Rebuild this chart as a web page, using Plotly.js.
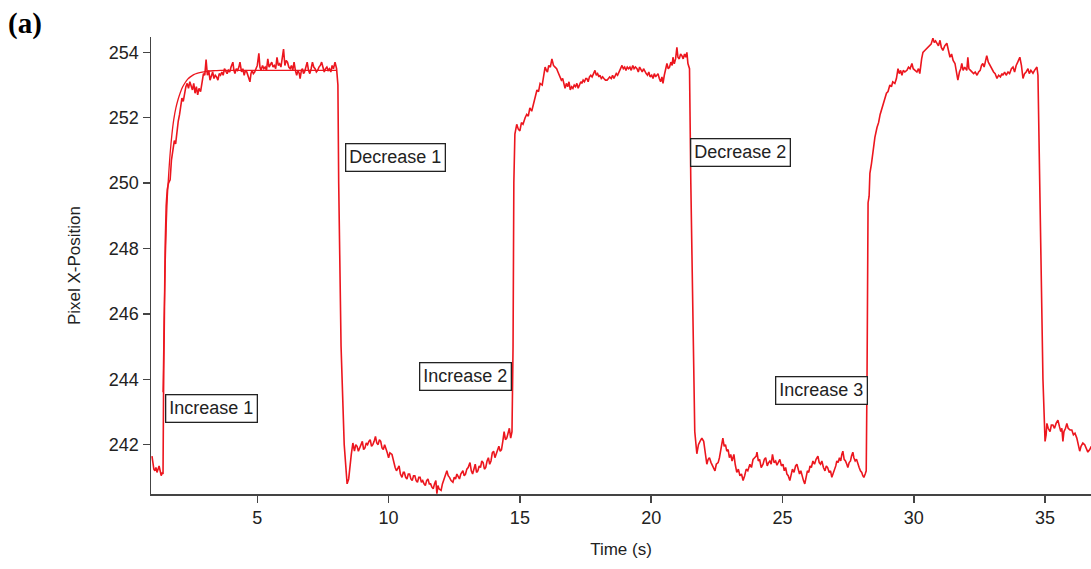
<!DOCTYPE html>
<html>
<head>
<meta charset="utf-8">
<script src="https://cdn.plot.ly/plotly-3.0.1.min.js"></script>
<style>html,body{margin:0;padding:0;background:#fff;}#chart{width:1091px;height:569px;}</style>
</head>
<body>
<div id="chart"></div>
<script>
// Measured trace: time (s)
const timeS = [
0.99,1.02,1.06,1.10,1.14,1.18,1.22,1.26,1.30,1.34,1.38,1.41,
1.43,1.46,1.49,1.53,1.57,1.62,1.68,1.73,1.78,1.84,1.89,1.94,1.99,2.04,2.09,2.13,2.18,2.23,2.28,2.33,2.38,2.43,2.48,2.53,2.58,2.63,2.68,2.73,2.78,2.84,2.90,2.95,
3.00,3.05,3.10,3.15,3.20,3.25,3.30,3.35,3.40,3.45,3.50,3.55,3.60,3.65,3.70,3.75,3.80,3.85,3.90,3.95,
4.00,4.07,4.11,4.15,4.20,4.25,4.30,4.34,4.40,4.45,4.50,4.55,4.60,4.66,4.72,4.76,4.80,4.85,4.90,4.95,
5.00,5.06,5.10,5.14,5.20,5.25,5.30,5.35,5.40,5.45,5.50,5.55,5.60,5.65,5.70,5.75,5.80,5.85,5.90,5.95,
6.00,6.05,6.10,6.15,6.20,6.25,6.30,6.35,6.40,6.45,6.50,6.55,6.60,6.63,6.68,6.72,6.76,6.80,6.85,6.90,6.95,
7.00,7.05,7.10,7.15,7.20,7.25,7.30,7.35,7.40,7.45,7.50,7.55,7.60,7.65,7.70,7.75,7.80,7.85,7.90,7.96,
8.02,8.07,8.10,8.19,8.31,8.42,8.48,8.53,8.58,8.64,8.70,8.75,8.80,8.85,8.90,8.95,
9.00,9.05,9.10,9.15,9.20,9.25,9.30,9.35,9.40,9.45,9.50,9.55,9.60,9.65,9.70,9.75,9.80,9.85,9.90,9.95,
10.00,10.05,10.13,10.20,10.25,10.30,10.35,10.40,10.45,10.51,10.56,10.60,10.65,10.70,10.75,10.80,10.85,10.90,10.95,
11.00,11.05,11.10,11.15,11.20,11.25,11.30,11.35,11.40,11.45,11.50,11.55,11.60,11.65,11.70,11.75,11.80,11.84,11.88,11.92,
12.00,12.05,12.10,12.15,12.22,12.27,12.32,12.38,12.45,12.50,12.55,12.60,12.65,12.70,12.75,12.83,12.88,12.93,12.98,
13.03,13.10,13.15,13.20,13.25,13.30,13.35,13.40,13.45,13.50,13.55,13.60,13.65,13.70,13.75,13.80,13.85,13.90,13.95,
14.00,14.05,14.10,14.15,14.20,14.25,14.30,14.35,14.40,14.45,14.50,14.55,14.60,14.65,14.70,14.74,14.77,14.81,14.88,14.94,
15.00,15.06,15.12,15.20,15.26,15.32,15.38,15.45,15.52,15.58,15.65,15.71,15.77,15.85,15.90,15.96,
16.01,16.05,16.10,16.16,16.22,16.28,16.34,16.40,16.45,16.50,16.53,16.58,16.63,16.68,16.72,16.77,16.82,16.87,16.92,16.97,
17.02,17.07,17.12,17.17,17.22,17.27,17.32,17.36,17.41,17.46,17.51,17.55,17.60,17.65,17.70,17.75,17.80,17.86,17.91,17.96,
18.01,18.05,18.10,18.15,18.20,18.26,18.32,18.37,18.42,18.48,18.53,18.58,18.62,18.67,18.72,18.78,18.83,18.89,18.94,18.99,
19.04,19.09,19.14,19.19,19.24,19.30,19.35,19.40,19.46,19.51,19.56,19.61,19.66,19.71,19.76,19.81,19.86,19.91,19.96,
20.02,20.07,20.12,20.17,20.22,20.26,20.31,20.36,20.41,20.45,20.50,20.55,20.60,20.65,20.70,20.75,20.80,20.83,20.88,20.93,20.98,
21.02,21.07,21.12,21.17,21.22,21.27,21.32,21.36,21.40,21.46,21.51,21.59,21.66,21.74,21.80,21.86,21.93,
22.00,22.06,22.12,22.17,22.22,22.28,22.35,22.43,22.48,22.55,22.60,22.66,22.73,22.78,22.83,22.88,22.93,22.98,
23.03,23.08,23.15,23.20,23.26,23.32,23.38,23.44,23.50,23.56,23.62,23.68,23.76,23.82,23.88,23.94,
24.00,24.03,24.08,24.13,24.19,24.26,24.31,24.36,24.42,24.47,24.52,24.57,24.62,24.68,24.74,24.79,24.85,24.90,24.96,
25.02,25.07,25.12,25.17,25.22,25.28,25.33,25.38,25.44,25.50,25.55,25.60,25.65,25.70,25.75,25.80,25.85,25.90,25.95,
26.00,26.05,26.10,26.16,26.22,26.28,26.35,26.40,26.45,26.50,26.56,26.62,26.67,26.72,26.78,26.83,26.88,26.93,26.98,
27.03,27.07,27.12,27.17,27.22,27.26,27.30,27.35,27.40,27.45,27.49,27.54,27.59,27.63,27.68,27.72,27.77,27.82,27.87,27.92,27.97,
28.02,28.06,28.10,28.15,28.19,28.22,28.26,28.30,28.33,28.39,28.45,28.52,28.60,28.66,28.72,28.79,28.85,28.90,28.96,
29.02,29.09,29.15,29.20,29.28,29.34,29.40,29.45,29.50,29.55,29.60,29.66,29.74,29.80,29.86,29.93,29.98,
30.04,30.12,30.18,30.23,30.30,30.35,30.41,30.47,30.54,30.60,30.66,30.73,30.78,30.83,30.88,30.94,
31.00,31.05,31.11,31.18,31.26,31.32,31.38,31.44,31.50,31.57,31.62,31.68,31.74,31.79,31.83,31.88,31.94,
32.02,32.06,32.10,32.16,32.22,32.28,32.34,32.41,32.47,32.53,32.58,32.63,32.68,32.73,32.78,32.84,32.90,32.98,
33.04,33.10,33.17,33.23,33.30,33.36,33.40,33.46,33.52,33.59,33.65,33.72,33.78,33.84,33.90,33.96,
34.04,34.10,34.16,34.22,34.28,34.35,34.40,34.46,34.54,34.60,34.66,34.69,34.73,34.80,34.92,
35.00,35.04,35.07,35.12,35.19,35.24,35.30,35.36,35.42,35.49,35.55,35.60,35.64,35.68,35.72,35.78,35.83,35.88,35.95,
36.02,36.08,36.14,36.21,36.26,36.32,36.37,36.44,36.51,36.57,36.63,36.70,36.76
];
// Measured trace: pixel x-position
const pixelX = [
241.65,241.5,241.25,241.2,241.3,241.15,241.25,241.35,241.2,241.05,241.15,241.1,
243.6,246.0,248.0,249.3,249.8,250.0,250.1,250.7,251.0,251.3,251.2,251.6,251.9,252.1,252.4,252.6,252.5,252.8,252.95,253.05,252.9,253.1,253.0,252.85,253.05,252.75,252.95,252.7,252.9,252.8,253.1,253.35,
253.3,253.78,253.3,253.45,253.15,253.3,253.4,253.2,253.3,253.25,253.15,253.35,253.3,253.4,253.3,253.5,253.4,253.35,253.45,253.4,
253.55,253.7,253.45,253.35,253.5,253.45,253.55,253.7,253.4,253.5,253.3,253.45,253.4,253.25,253.1,253.35,253.45,253.35,253.4,253.5,
253.6,253.97,253.55,253.45,253.6,253.5,253.55,253.45,253.8,253.55,253.65,253.7,253.55,253.6,253.5,253.85,253.6,253.65,253.55,253.8,
254.1,253.6,253.75,253.7,253.55,253.5,253.6,253.45,253.7,253.45,253.3,253.45,253.35,253.2,253.45,253.5,253.35,253.4,253.55,253.7,253.45,
253.35,253.5,253.7,253.55,253.5,253.4,253.45,253.55,253.6,253.7,253.5,253.4,253.5,253.55,253.45,253.5,253.4,253.6,253.5,253.7,
253.5,253.0,250.0,245.0,242.0,240.8,240.95,241.4,241.7,242.05,241.8,242.0,241.95,241.8,241.9,242.0,
242.1,241.85,241.9,242.05,242.0,242.1,242.15,241.95,242.0,242.1,242.25,242.05,242.0,242.15,242.1,241.9,241.85,242.0,241.9,241.75,
241.6,241.75,241.7,241.45,241.3,241.2,241.3,241.35,241.1,241.0,241.15,241.15,241.0,240.95,241.1,241.1,240.95,240.9,241.05,
241.05,240.9,240.85,241.0,241.0,240.85,240.9,240.8,240.75,240.9,240.95,240.8,240.8,240.7,240.65,240.8,240.9,240.5,240.75,240.65,
240.6,240.8,240.9,241.0,241.2,241.05,241.0,240.9,240.85,241.0,240.95,241.1,241.0,240.95,241.1,241.2,241.05,241.1,241.25,
241.3,241.45,241.2,241.1,241.3,241.4,241.15,241.2,241.35,241.3,241.5,241.45,241.25,241.3,241.5,241.6,241.4,241.5,241.75,
241.8,241.6,241.7,241.85,241.95,241.8,241.85,242.1,242.4,242.15,242.2,242.35,242.5,242.2,242.4,245.0,250.0,251.5,251.8,251.65,
251.6,251.85,251.8,252.0,252.1,252.05,252.3,252.2,252.45,252.6,252.85,252.8,253.05,253.0,253.3,253.55,
253.45,253.4,253.6,253.55,253.8,253.6,253.55,253.5,253.4,253.3,253.25,253.15,253.2,253.0,252.9,253.05,252.95,253.1,252.85,252.95,
252.9,253.0,252.95,253.05,252.9,253.0,253.1,253.05,253.15,253.1,253.2,253.2,253.1,253.25,253.3,253.25,253.35,253.45,253.3,253.35,
253.25,253.3,253.2,253.25,253.2,253.15,253.15,253.2,253.25,253.2,253.3,253.2,253.25,253.35,253.3,253.4,253.45,253.6,253.5,253.55,
253.45,253.55,253.5,253.55,253.45,253.6,253.5,253.55,253.5,253.4,253.55,253.45,253.4,253.5,253.4,253.35,253.3,253.4,253.25,
253.3,253.2,253.35,253.25,253.3,253.35,253.2,253.1,253.25,253.05,253.3,253.45,253.66,253.5,253.55,253.7,253.6,253.85,253.65,253.8,254.15,
253.85,253.8,253.95,253.9,253.8,253.95,253.85,254.0,253.66,253.5,250.0,245.0,242.4,241.72,242.0,242.1,242.2,
242.1,241.75,241.4,241.55,241.6,241.45,241.35,241.2,241.4,241.45,241.6,241.9,242.2,241.95,242.0,241.8,241.85,241.6,
241.7,241.5,241.7,241.4,241.15,241.25,241.05,241.1,240.9,241.05,241.25,241.2,241.4,241.3,241.55,241.6,
241.65,241.77,241.5,241.55,241.3,241.4,241.55,241.6,241.35,241.45,241.5,241.4,241.7,241.45,241.5,241.37,241.45,241.55,241.35,
241.4,241.2,241.3,241.1,241.05,240.9,241.1,241.25,241.15,241.35,241.4,241.2,241.1,241.2,241.0,240.9,240.8,241.0,241.2,
241.15,241.35,241.3,241.5,241.4,241.55,241.65,241.45,241.4,241.5,241.3,241.2,241.35,241.3,241.15,241.2,241.0,241.1,241.25,
241.35,241.5,241.45,241.6,241.5,241.7,241.8,241.55,241.5,241.4,241.3,241.45,241.5,241.65,241.77,241.6,241.5,241.55,241.4,241.3,241.2,
241.15,241.05,241.0,241.1,241.2,244.0,249.4,249.6,250.3,250.6,251.0,251.4,251.7,251.85,252.1,252.3,252.45,252.6,252.75,
252.8,253.0,252.95,253.1,253.05,253.2,253.5,253.35,253.45,253.3,253.45,253.4,253.45,253.55,253.5,253.66,253.5,
253.45,253.4,253.5,253.35,253.8,254.0,254.05,254.1,254.15,254.2,254.25,254.43,254.3,254.35,254.28,254.2,
254.37,254.15,254.06,254.2,254.28,254.0,253.85,253.95,253.75,253.66,253.4,253.15,253.4,253.5,253.66,253.45,253.55,
253.45,253.85,253.5,253.45,253.4,253.35,253.4,253.3,253.4,253.45,253.6,253.66,253.55,253.75,253.9,253.7,253.6,253.5,
253.4,253.35,253.2,253.3,253.25,253.35,253.3,253.4,253.3,253.4,253.35,253.5,253.55,253.4,253.6,253.7,
253.85,253.6,253.2,253.35,253.4,253.5,253.35,253.45,253.36,253.45,253.5,253.55,253.3,250.0,244.0,
242.1,242.3,242.65,242.5,242.4,242.6,242.6,242.5,242.65,242.75,242.55,242.4,242.5,242.1,242.4,242.5,242.65,242.5,242.45,
242.45,242.3,242.35,242.2,242.0,241.8,241.95,242.05,242.0,241.9,241.77,241.85,241.95
];
// Fitted curve for the first increase
const fitTime = [1.41,1.45,1.49,1.53,1.57,1.62,1.68,1.75,1.82,1.90,1.98,2.06,2.15,2.25,2.35,2.45,2.58,2.70,2.85,3.01,3.20,3.39,3.60,4.00,5.00,6.00,7.00,8.03];
const fitPixelX = [243.6,245.8,247.4,248.6,249.5,250.2,250.9,251.5,251.95,252.3,252.55,252.75,252.93,253.07,253.18,253.25,253.32,253.36,253.39,253.41,253.43,253.44,253.45,253.45,253.45,253.45,253.45,253.45];

const xTickVals = [5,10,15,20,25,30,35];
const yTickVals = [242,244,246,248,250,252,254];

const labelTexts = ['Increase 1','Decrease 1','Increase 2','Decrease 2','Increase 3'];
const labelTimes = [3.27,10.28,12.91,23.42,26.5];
const labelPixelX = [243.11,250.79,244.07,250.95,243.67];

const FONT = 'Liberation Sans, Arial, sans-serif';
const RED = 'rgb(236,22,30)';
const AX = '#444';

const traces = [
  {x: timeS, y: pixelX, type: 'scatter', mode: 'lines', line: {color: RED, width: 1.6}, hoverinfo: 'skip'},
  {x: fitTime, y: fitPixelX, type: 'scatter', mode: 'lines', line: {color: RED, width: 1.3, shape: 'spline'}, hoverinfo: 'skip'}
];

const annotations = labelTexts.map((t, i) => ({
  x: labelTimes[i], y: labelPixelX[i], xref: 'x', yref: 'y', text: t, showarrow: false,
  font: {family: FONT, size: 18, color: '#222'}, bgcolor: '#fff', bordercolor: '#222',
  borderwidth: 1.3, borderpad: 3
}));
annotations.push({
  x: -0.154, y: 1.07, xref: 'paper', yref: 'paper', xanchor: 'left', yanchor: 'top',
  text: '<b>(a)</b>', showarrow: false,
  font: {family: 'Liberation Serif, Times New Roman, serif', size: 29, color: '#000'}
});

const axisCommon = {
  showline: true, linecolor: AX, linewidth: 1.5, ticks: 'outside', ticklen: 7,
  tickwidth: 1.5, tickcolor: AX, showgrid: false, zeroline: false, mirror: false,
  tickfont: {family: FONT, size: 18, color: '#222'}
};

const layout = {
  width: 1091, height: 569,
  margin: {l: 151, r: 0, t: 37, b: 75, pad: 0},
  paper_bgcolor: '#fff', plot_bgcolor: '#fff',
  showlegend: false,
  xaxis: Object.assign({}, axisCommon, {
    range: [0.952, 36.75], tickmode: 'array', tickvals: xTickVals,
    title: {text: 'Time (s)', font: {family: FONT, size: 17, color: '#222'}, standoff: 16}
  }),
  yaxis: Object.assign({}, axisCommon, {
    range: [240.49, 254.47], tickmode: 'array', tickvals: yTickVals,
    title: {text: 'Pixel X-Position', font: {family: FONT, size: 17, color: '#222'}, standoff: 24}
  }),
  annotations: annotations
};

Plotly.newPlot('chart', traces, layout, {staticPlot: true, displayModeBar: false});
</script>
</body>
</html>
